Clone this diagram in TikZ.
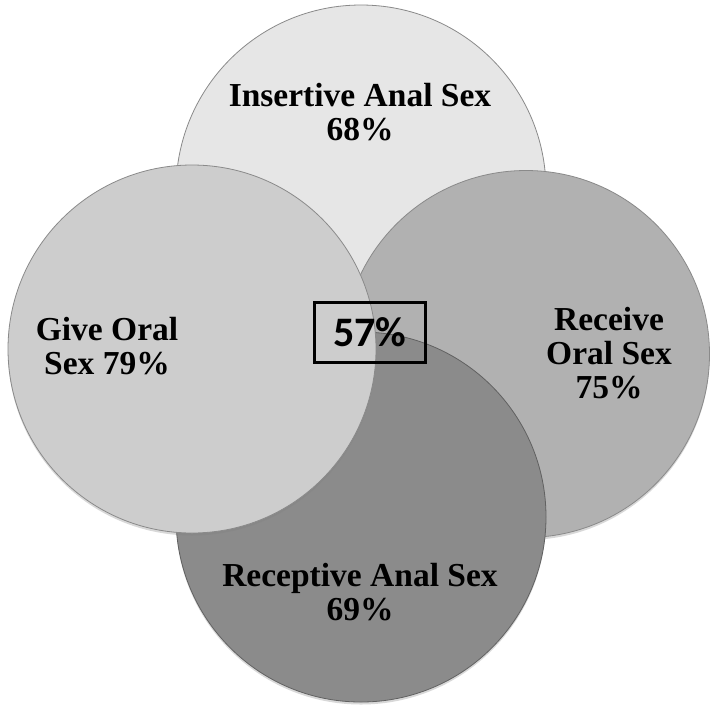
\documentclass[tikz,border=0pt]{standalone}
\usepackage{fontspec}
\setmainfont{Liberation Serif}
\newfontfamily\boxfont{Carlito}
\usetikzlibrary{shadows}
\definecolor{ctop}{HTML}{E6E6E6}
\definecolor{cleft}{HTML}{CDCDCD}
\definecolor{cright}{HTML}{B1B1B1}
\definecolor{cbottom}{HTML}{8B8B8B}
\definecolor{cedge}{HTML}{8A8A8A}
\begin{document}
\begin{tikzpicture}[x=1pt,y=-1pt,
  disc/.style={circle, inner sep=0pt, minimum size=#1, draw=cedge, line width=0.8pt,
    drop shadow={opacity=0.3, shadow xshift=0pt, shadow yshift=-2.5pt}},
  lbl/.style={font=\bfseries\fontsize{33.5}{34}\selectfont, align=center, inner sep=0pt, anchor=base}
]
\useasboundingbox[fill=white] (0,0) rectangle (719,716);
\node[disc=370pt, fill=ctop] (top) at (361,190) {};
\node[disc=367pt, fill=cright] (right) at (526,354) {};
\node[disc=370pt, fill=cbottom, draw=cedge!70!black] (bottom) at (361,517) {};
\node[disc=368pt, fill=cleft] (left) at (192,349) {};
\node[lbl] (ltop) at (360,140) {Insertive Anal Sex\\68\%};
\node[lbl] (lright) at (609,398) {Receive\\Oral Sex\\75\%};
\node[lbl] (lbottom) at (360,620) {Receptive Anal Sex\\69\%};
\node[lbl] (lleft) at (107,374) {Give Oral\\Sex 79\%};
\node[draw, line width=3pt, minimum width=111pt, minimum height=60pt, inner sep=0pt,
  font=\boxfont\bfseries\fontsize{42}{42}\selectfont] (both) at (370,332.5) {57\%};
\end{tikzpicture}
\end{document}
